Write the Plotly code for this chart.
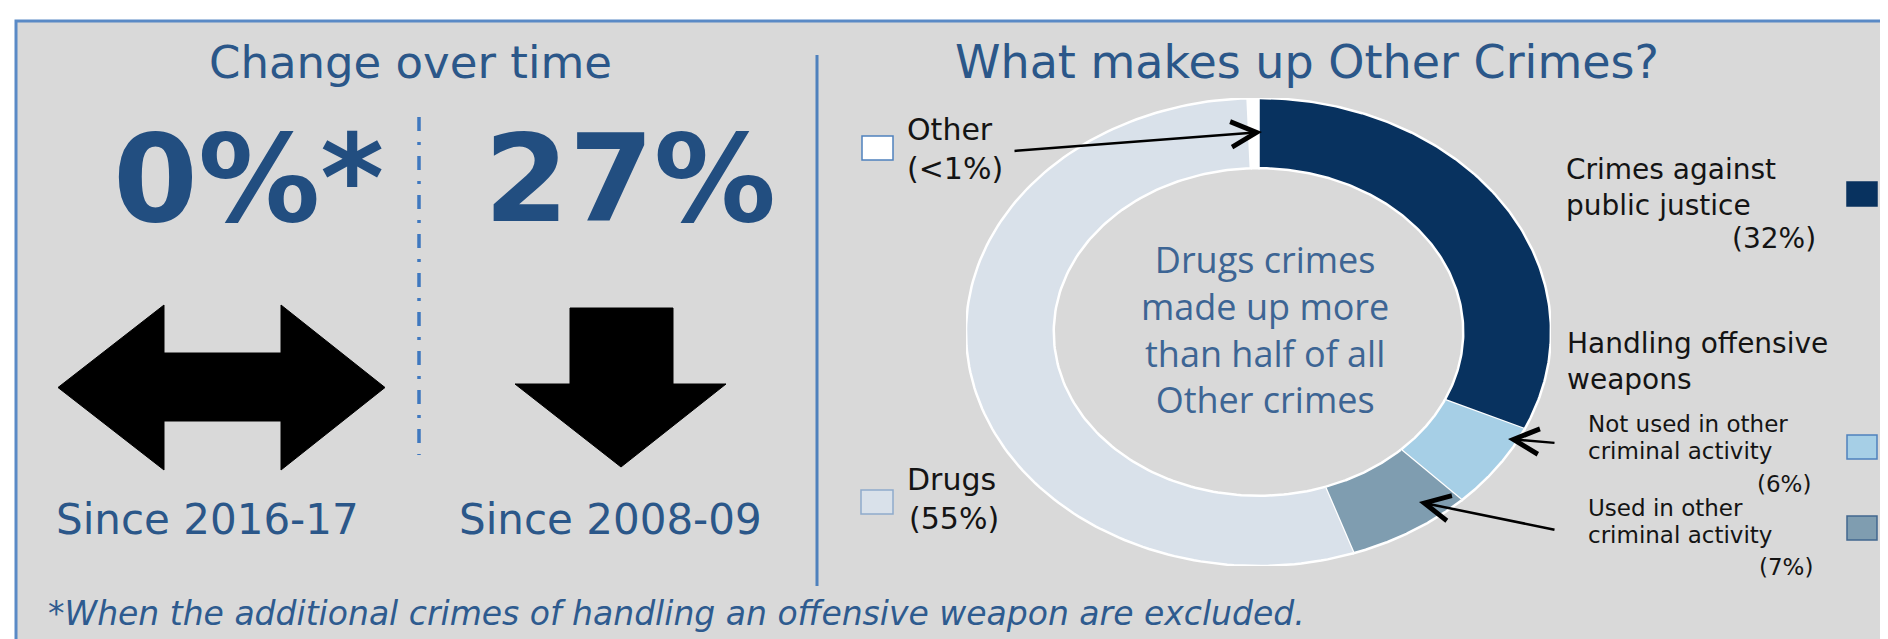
import numpy as np
import plotly.graph_objects as go

W, H = 1888, 639

# ---------------- data ----------------
categories = [
    "Crimes against public justice",
    "Handling offensive weapons: not used in other criminal activity",
    "Handling offensive weapons: used in other criminal activity",
    "Drugs",
    "Other",
]
shares = [32, 6, 7, 55, 0.6]
share_labels = ["(32%)", "(6%)", "(7%)", "(55%)", "(<1%)"]
seg_colors = ["#08325f", "#a6cfe6", "#7f9db0", "#d9e1ea", "#ffffff"]
square_borders = ["#08325f", "#4f81bd", "#41678f", "#8eaacc", "#4f81bd"]

change_values = ["0%*", "27%"]
change_periods = ["Since 2016-17", "Since 2008-09"]
center_lines = ["Drugs crimes", "made up more", "than half of all", "Other crimes"]
footnote = "*When the additional crimes of handling an offensive weapon are excluded."

# ---------------- style ----------------
TITLE_C = "#2b5789"
BIG_C = "#224e80"
FONT = "DejaVu Sans"
LABEL_C = "#141414"

fig = go.Figure()

# donut drawn on its own axis pair (ellipse via axis domain)
total = sum(shares)
cum = np.concatenate([[0], np.cumsum(shares)]) / total
R_OUT, R_IN = 1.0, 0.70
for i, cat in enumerate(categories):
    t = np.linspace(cum[i], cum[i + 1], 150)
    ang = np.pi / 2 - 2 * np.pi * t
    xs = np.concatenate([R_OUT * np.cos(ang), R_IN * np.cos(ang[::-1])])
    ys = np.concatenate([R_OUT * np.sin(ang), R_IN * np.sin(ang[::-1])])
    fig.add_trace(go.Scatter(
        x=xs, y=ys, mode="lines", fill="toself", fillcolor=seg_colors[i],
        line=dict(color="white", width=2.5), xaxis="x2", yaxis="y2",
        name=cat, hoverinfo="name", showlegend=False))

# dummy trace so the pixel axes exist
fig.add_trace(go.Scatter(x=[0], y=[0], mode="markers", marker=dict(opacity=0),
                         xaxis="x", yaxis="y", showlegend=False, hoverinfo="skip"))

shapes = []
# panel
shapes.append(dict(type="rect", xref="paper", yref="paper",
                   x0=8 / W, x1=1 + 20 / W, y0=-20 / H, y1=1 - 13 / H,
                   fillcolor="#d9d9d9", line=dict(color="#5a8ac6", width=3), layer="below"))
# dash-dot separator
shapes.append(dict(type="line", xref="x", yref="y", x0=411, x1=411, y0=109, y1=447,
                   line=dict(color="#3f78bf", width=3.5, dash="14px,11px,3px,11px")))
# solid divider
shapes.append(dict(type="line", xref="x", yref="y", x0=809, x1=809, y0=47, y1=578,
                   line=dict(color="#4f81bd", width=3)))
# double arrow
shapes.append(dict(type="path", xref="x", yref="y",
                   path="M 50 379.5 L 156 297 L 156 345 L 273 345 L 273 297 L 377 379.5 "
                        "L 273 462 L 273 413 L 156 413 L 156 462 Z",
                   fillcolor="black", line=dict(color="black", width=1)))
# down arrow
shapes.append(dict(type="path", xref="x", yref="y",
                   path="M 562 300 L 665 300 L 665 376 L 718 376 L 613 459 L 507 376 L 562 376 Z",
                   fillcolor="black", line=dict(color="black", width=1)))

# legend squares (category order)
square_boxes = [
    (1839, 1869, 174, 198),
    (1839, 1869, 427, 451),
    (1839, 1869, 508, 532),
    (853, 885, 482, 506),
    (854, 885, 128, 152),
]
for i, (x0, x1, y0, y1) in enumerate(square_boxes):
    shapes.append(dict(type="rect", xref="x", yref="y", x0=x0, x1=x1, y0=y0, y1=y1,
                       fillcolor=seg_colors[i], line=dict(color=square_borders[i], width=1.5)))

annotations = []


def txt(text, x, y, size, color, family=FONT, xanchor="center", align="left"):
    annotations.append(dict(text=text, x=x, y=y, xref="x", yref="y", showarrow=False,
                            xanchor=xanchor, yanchor="middle", align=align,
                            font=dict(family=family, size=size, color=color)))


# left panel
txt("Change over time", 402, 54, 45, TITLE_C)
txt("<b>" + change_values[0] + "</b>", 240, 171, 122, BIG_C)
txt("<b>" + change_values[1] + "</b>", 622, 171, 122, BIG_C)
txt(change_periods[0], 199, 511, 42, TITLE_C)
txt(change_periods[1], 602, 511, 42, TITLE_C)
txt("<i>" + footnote + "</i>", 38, 605, 33, "#2e5b8f", xanchor="left")

# right panel
txt("What makes up Other Crimes?", 1299, 54, 46, TITLE_C)
txt("<br>".join(center_lines), 1257, 321, 36, "#3d6594", family="Open Sans", align="center")

# labels
txt("Crimes against<br>public justice", 1556, 179, 28, LABEL_C, xanchor="left")
txt(share_labels[0], 1810, 230, 28, LABEL_C, xanchor="right")

txt("Handling offensive<br>weapons", 1557, 353, 28, LABEL_C, xanchor="left")

txt("Not used in other", 1578, 416, 23, LABEL_C, xanchor="left")
txt("criminal activity", 1578, 443, 23, LABEL_C, xanchor="left")
txt(share_labels[1], 1805, 476, 23, LABEL_C, xanchor="right")

txt("Used in other", 1578, 500, 23, LABEL_C, xanchor="left")
txt("criminal activity", 1578, 527, 23, LABEL_C, xanchor="left")
txt(share_labels[2], 1807, 559, 23, LABEL_C, xanchor="right")

txt("Drugs", 897, 471, 30, LABEL_C, xanchor="left")
txt(share_labels[3], 899, 510, 30, LABEL_C, xanchor="left")

txt("Other", 897, 121, 30, LABEL_C, xanchor="left")
txt(share_labels[4], 897, 160, 30, LABEL_C, xanchor="left")

# pointer arrows (tip, tail)
arrows = [((1254, 124), (1005, 143)), ((1500, 431), (1548, 435)), ((1411, 494), (1548, 522))]
for (tx, ty), (sx, sy) in arrows:
    annotations.append(dict(text="", x=tx, y=ty, ax=sx, ay=sy, xref="x", yref="y",
                            axref="x", ayref="y", showarrow=True, arrowhead=5,
                            arrowsize=2, arrowwidth=2.5, arrowcolor="black", standoff=0))

fig.update_layout(
    width=W, height=H, margin=dict(l=0, r=0, t=0, b=0),
    paper_bgcolor="white", plot_bgcolor="rgba(0,0,0,0)",
    xaxis=dict(range=[0, W], visible=False, domain=[0, 1], fixedrange=True),
    yaxis=dict(range=[H, 0], visible=False, domain=[0, 1], fixedrange=True),
    xaxis2=dict(range=[-1, 1], visible=False, domain=[958 / W, 1543 / W], anchor="y2", fixedrange=True),
    yaxis2=dict(range=[-1, 1], visible=False, domain=[(H - 558) / H, (H - 90) / H], anchor="x2", fixedrange=True),
    shapes=shapes, annotations=annotations, showlegend=False,
)

fig.write_html("out.html")
